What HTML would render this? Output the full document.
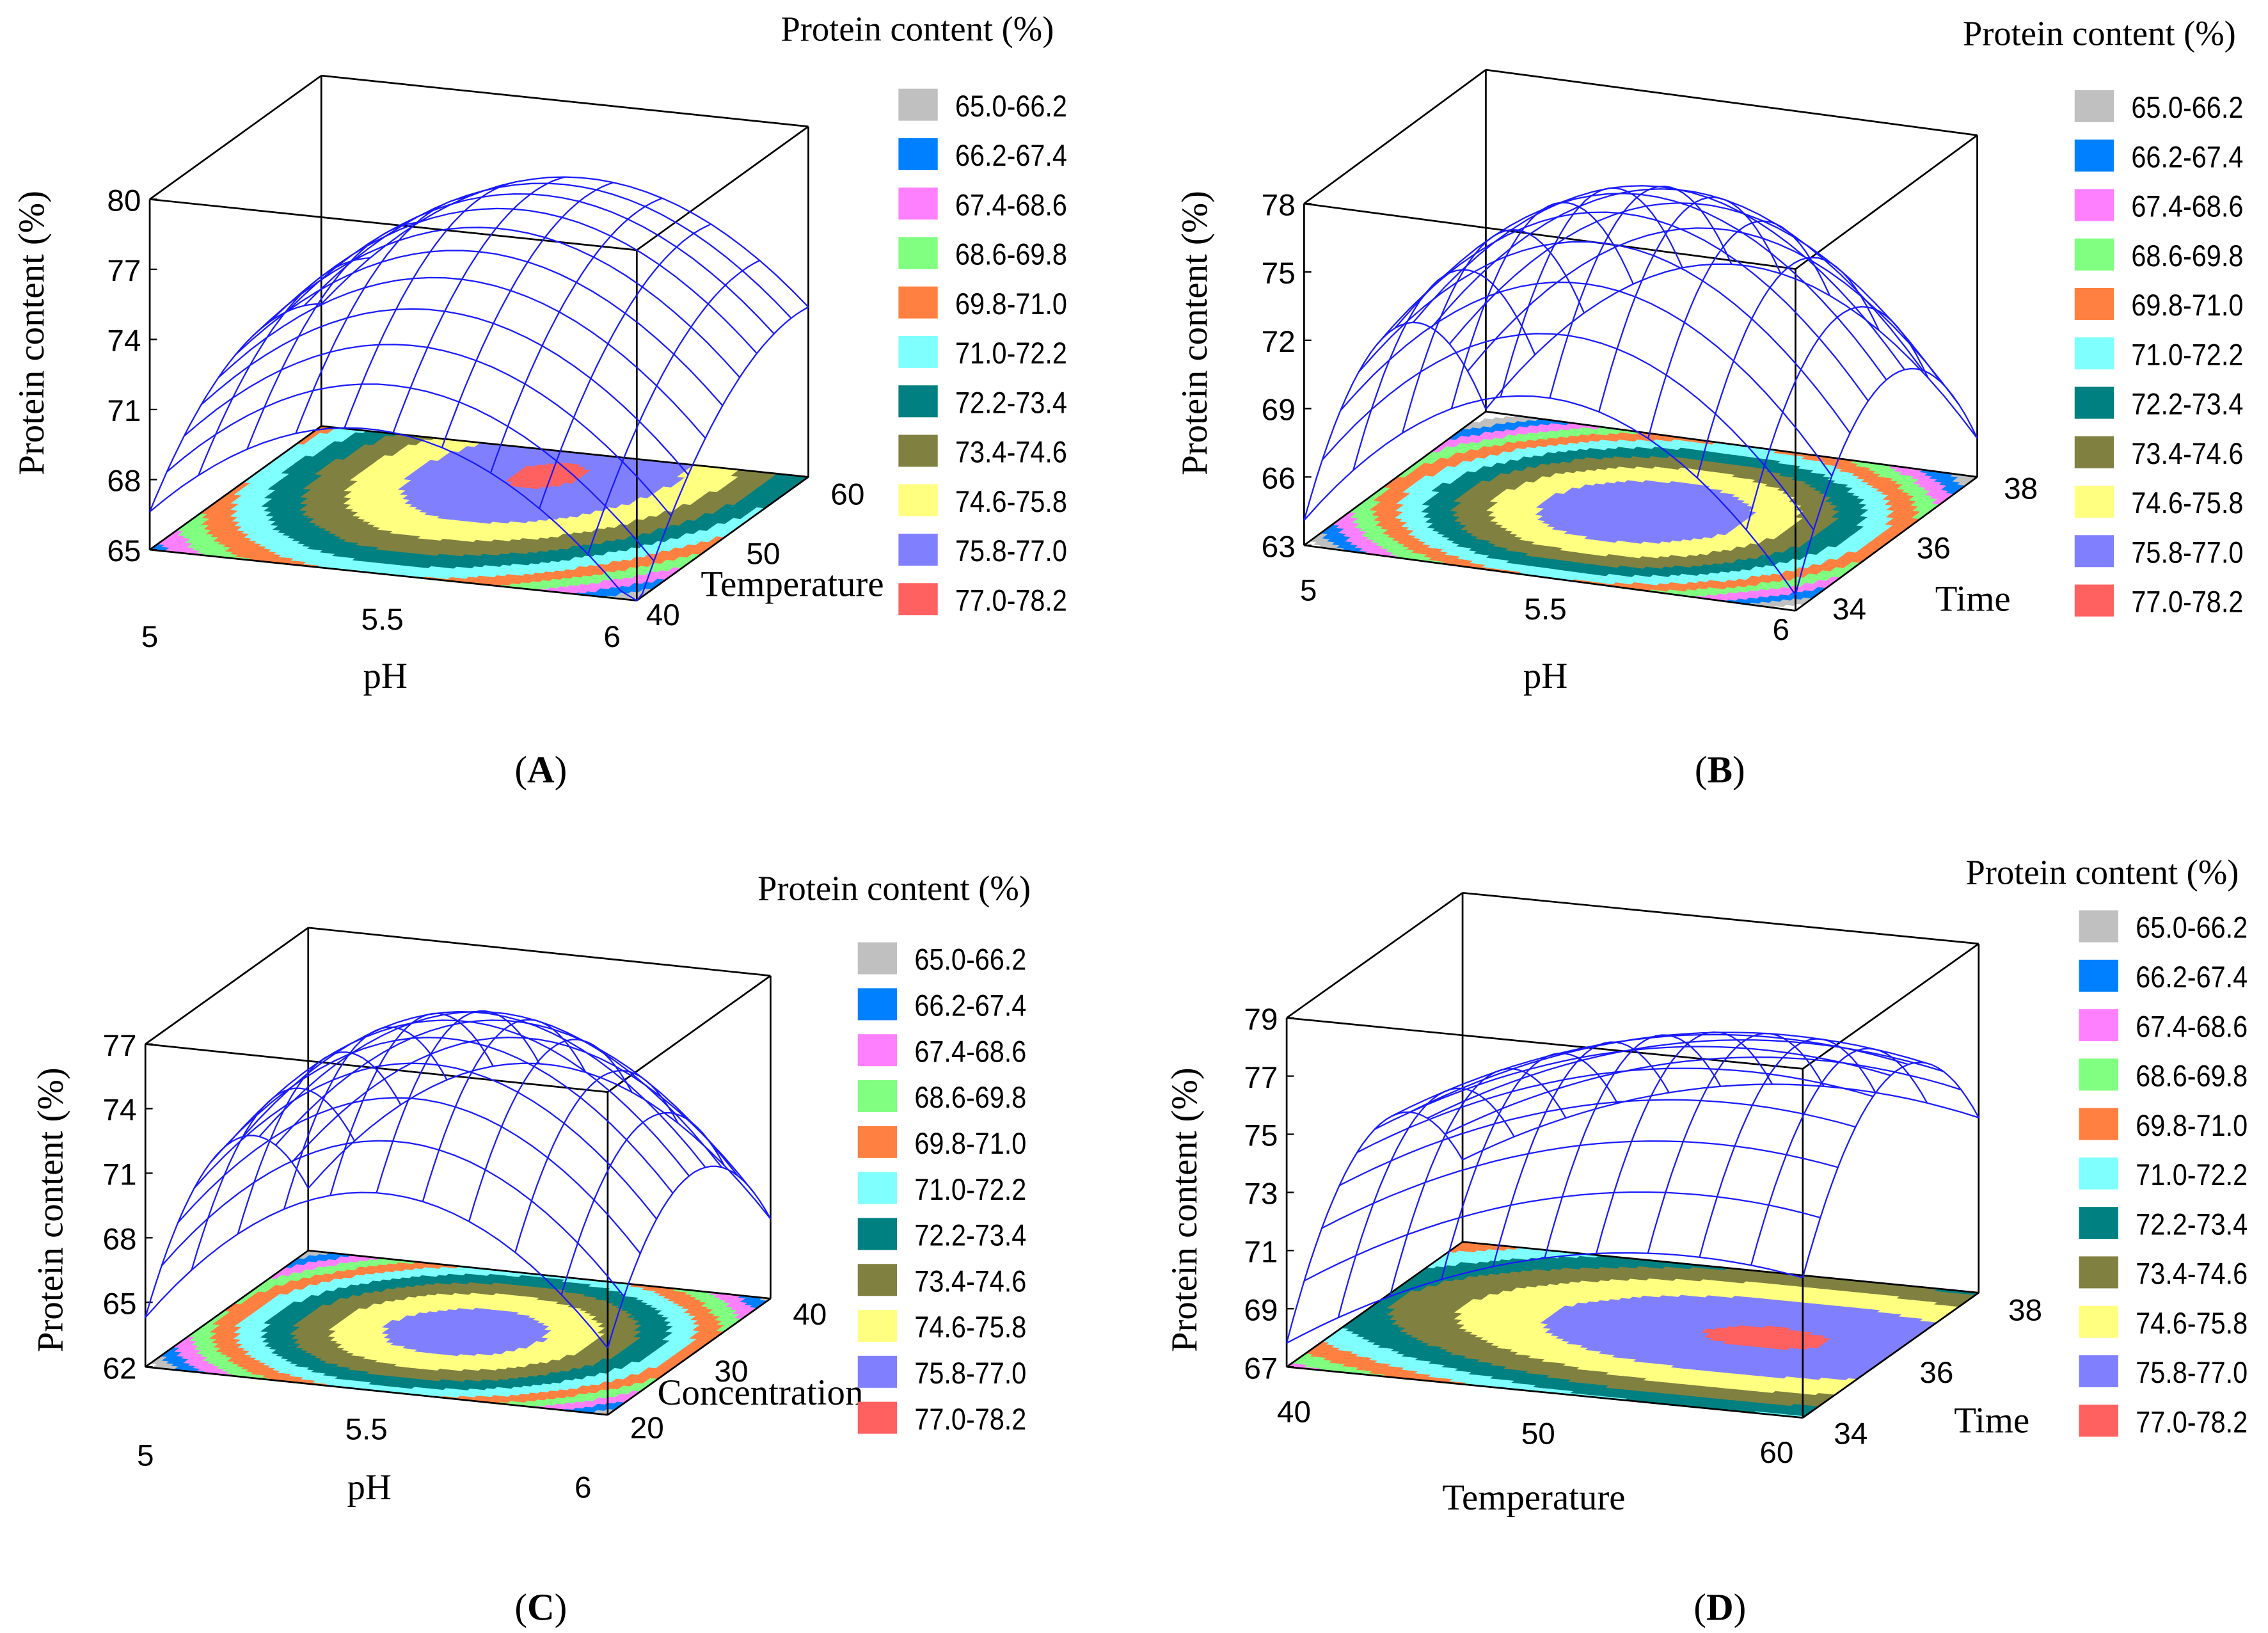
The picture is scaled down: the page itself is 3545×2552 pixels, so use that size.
<!DOCTYPE html>
<html><head><meta charset="utf-8"><title>Response surfaces</title>
<style>
html,body{margin:0;padding:0;background:#fff;}
svg{display:block;}
.tk{font-family:"Liberation Sans Narrow","Liberation Sans",sans-serif;font-size:21px;fill:#000;}
.sf{font-family:"Liberation Serif",serif;fill:#000;}
</style></head>
<body>
<svg id="fig" xmlns="http://www.w3.org/2000/svg" width="3545" height="2552" viewBox="0 0 1560 1123">
<rect x="0" y="0" width="1560" height="1123" fill="#fff"/>
</svg>
<script>
// ---- data ----
const bandLows = [65.0, 66.2, 67.4, 68.6, 69.8, 71.0, 72.2, 73.4, 74.6, 75.8, 77.0];
const bandLabels = ["65.0-66.2","66.2-67.4","67.4-68.6","68.6-69.8","69.8-71.0","71.0-72.2","72.2-73.4","73.4-74.6","74.6-75.8","75.8-77.0","77.0-78.2"];
const bandColors = ["#c0c0c0","#0080ff","#ff80ff","#80ff80","#ff8040","#80ffff","#008080","#808040","#ffff80","#8080ff","#ff6060"];
const bandWidth = 1.2;

// fitted model coefficients [b0, b1, b2, b11, b22, b12] on coded (-1..1) factors
const coefA = [76.2, 0.0, 2.825, -5.5, -2.275, 1.025];
const coefB = [76.9, 0.3, 0.0, -7.0, -6.0, 0.5];
const coefC = [76.5, 0.4, 0.3, -6.5, -5.0, 0.0];
const coefD = [76.62, 1.8, 0.8, -1.8, -4.2, -0.2];

const zTicksA = [65, 68, 71, 74, 77, 80];
const zTicksB = [63, 66, 69, 72, 75, 78];
const zTicksC = [62, 65, 68, 71, 74, 77];
const zTicksD = [67, 69, 71, 73, 75, 77, 79];

const xTicksA = ["5", "5.5", "6"];
const xTicksB = ["5", "5.5", "6"];
const xTicksC = ["5", "5.5", "6"];
const xTicksD = ["40", "50", "60"];

const yTicksA = ["40", "50", "60"];
const yTicksB = ["34", "36", "38"];
const yTicksC = ["20", "30", "40"];
const yTicksD = ["34", "36", "38"];

// ---- geometry (layout only) ----
const panels = [
 {id:"a", coef:coefA, zt:zTicksA, xt:xTicksA, yt:yTicksA, O:[103,378], ex:[335,35], ey:[118,-85], zpx:241/15,
  xLab:[[103,437],[263,425],[421,437]], yLab:[[456,422],[525,380],[583,339]],
  xTitle:"pH", xTitlePos:[265,473], yTitle:"Temperature", yTitlePos:[545,410],
  zTitlePos:[30,229], legX:618, legY:72, legStep:34, legTitle:[631,28], tag:"A", tagPos:[372,538]},
 {id:"b", coef:coefB, zt:zTicksB, xt:xTicksB, yt:yTicksB, O:[897,375], ex:[338,45], ey:[125,-92], zpx:235/15,
  xLab:[[900,405],[1063,418],[1225,432]], yLab:[[1272,418],[1330,376],[1390,335]],
  xTitle:"pH", xTitlePos:[1063,473], yTitle:"Time", yTitlePos:[1357,420],
  zTitlePos:[830,229], legX:1427, legY:73, legStep:34, legTitle:[1444,31], tag:"B", tagPos:[1183,538]},
 {id:"c", coef:coefC, zt:zTicksC, xt:xTicksC, yt:yTicksC, O:[100,940], ex:[318,33], ey:[112,-80], zpx:222/15,
  xLab:[[100,1000],[252,982],[401,1022]], yLab:[[445,981],[503,942],[557,903]],
  xTitle:"pH", xTitlePos:[254,1031], yTitle:"Concentration", yTitlePos:[523,966],
  zTitlePos:[43,832], legX:590, legY:659, legStep:31.6, legTitle:[615,619], tag:"C", tagPos:[372,1114]},
 {id:"d", coef:coefD, zt:zTicksD, xt:xTicksD, yt:yTicksD, O:[885,940], ex:[355,35], ey:[121,-86], zpx:20,
  xLab:[[890,970],[1058,985],[1222,998]], yLab:[[1273,985],[1332,943],[1393,900]],
  xTitle:"Temperature", xTitlePos:[1055,1038], yTitle:"Time", yTitlePos:[1370,985],
  zTitlePos:[823,832], legX:1430, legY:637, legStep:34, legTitle:[1446,608], tag:"D", tagPos:[1183,1114]}
];

const NS = "http://www.w3.org/2000/svg";
const svg = document.getElementById("fig");
function mk(tag, attrs, parent){
  const e = document.createElementNS(NS, tag);
  for (const k in attrs) e.setAttribute(k, attrs[k]);
  (parent||svg).appendChild(e);
  return e;
}
function model(c, u, v){ return c[0]+c[1]*u+c[2]*v+c[3]*u*u+c[4]*v*v+c[5]*u*v; }

panels.forEach(p=>{
  const zmin = p.zt[0], zmax = p.zt[p.zt.length-1];
  const proj = (s,t,z)=>[p.O[0]+p.ex[0]*s+p.ey[0]*t, p.O[1]+p.ex[1]*s+p.ey[1]*t-(z-zmin)*p.zpx];
  const g = mk("g", {});
  
  

  // floor contour
  const fg = mk("g", {}, g);
  
  
  const N = 64;
  for (let i=0;i<N;i++) for (let j=0;j<N;j++){
    const s0=i/N, s1=(i+1)/N, t0=j/N, t1=(j+1)/N;
    const z = model(p.coef, (s0+s1)-1, (t0+t1)-1);
    const k = Math.floor((z - bandLows[0])/bandWidth + 1e-9);
    if (k<0 || k>=bandColors.length) continue;
    const pts=[proj(s0,t0,zmin),proj(s1,t0,zmin),proj(s1,t1,zmin),proj(s0,t1,zmin)].map(q=>q[0].toFixed(1)+","+q[1].toFixed(1)).join(" ");
    const c = mk("polygon", {points:pts, fill:bandColors[k], stroke:bandColors[k], "stroke-width":"0.6"}, fg);
    
    
  }

  // box
  const A=(s,t,z)=>proj(s,t,z);
  const edges=[[[0,0,zmin],[1,0,zmin]],[[1,0,zmin],[1,1,zmin]],[[1,1,zmin],[0,1,zmin]],[[0,1,zmin],[0,0,zmin]],
    [[0,0,zmax],[1,0,zmax]],[[1,0,zmax],[1,1,zmax]],[[1,1,zmax],[0,1,zmax]],[[0,1,zmax],[0,0,zmax]],
    [[0,0,zmin],[0,0,zmax]],[[1,0,zmin],[1,0,zmax]],[[1,1,zmin],[1,1,zmax]],[[0,1,zmin],[0,1,zmax]]];
  edges.forEach(e=>{
    const a=A(...e[0]), b=A(...e[1]);
    const l=mk("line",{x1:a[0],y1:a[1],x2:b[0],y2:b[1],stroke:"#000","stroke-width":"1.2"},g);
    
    
  });

  // z ticks
  p.zt.forEach(z=>{
    const q=A(0,0,z);
    const l=mk("line",{x1:q[0],y1:q[1],x2:q[0]+5,y2:q[1],stroke:"#000","stroke-width":"1"},g);
    
    
    const t=mk("text",{x:q[0]-6,y:q[1]+8,"text-anchor":"end",class:"tk"},g);
    t.textContent=String(z);
    
    
  });
  // x ticks
  p.xt.forEach((lab,i)=>{
    const q=p.xLab[i];
    const t=mk("text",{x:q[0],y:q[1]+8,"text-anchor":"middle",class:"tk"},g);
    t.textContent=lab;
    
    
  });
  // depth ticks
  p.yt.forEach((lab,i)=>{
    const q=p.yLab[i];
    const t=mk("text",{x:q[0],y:q[1]+8,"text-anchor":"middle",class:"tk"},g);
    t.textContent=lab;
    
    
  });

  // wireframe
  const wg = mk("g", {fill:"none",stroke:"#1a1aff","stroke-width":"1"}, g);
  
  
  const D=10, S=30;
  const zc = z=>Math.max(zmin, Math.min(zmax, z));
  for (let k=0;k<=D;k++){
    let d1="", d2="";
    for (let m=0;m<=S;m++){
      const a=k/D, b=m/S;
      const q1=A(b,a,zc(model(p.coef,2*b-1,2*a-1)));
      const q2=A(a,b,zc(model(p.coef,2*a-1,2*b-1)));
      d1+=(m?"L":"M")+q1[0].toFixed(1)+" "+q1[1].toFixed(1);
      d2+=(m?"L":"M")+q2[0].toFixed(1)+" "+q2[1].toFixed(1);
    }
    const l1=mk("path",{d:d1},wg);
    
    
    const l2=mk("path",{d:d2},wg);
    
    
  }

  // axis titles
  const zt=mk("text",{x:p.zTitlePos[0],y:p.zTitlePos[1],transform:`rotate(-90 ${p.zTitlePos[0]} ${p.zTitlePos[1]})`,"text-anchor":"middle",class:"sf","font-size":"25"},g);
  zt.textContent="Protein content (%)";
  
  
  const xt=mk("text",{x:p.xTitlePos[0],y:p.xTitlePos[1],"text-anchor":"middle",class:"sf","font-size":"25"},g);
  xt.textContent=p.xTitle;
  
  
  const yt=mk("text",{x:p.yTitlePos[0],y:p.yTitlePos[1],"text-anchor":"middle",class:"sf","font-size":"25"},g);
  yt.textContent=p.yTitle;
  
  

  // legend
  const lg=mk("g",{},g);
  
  
  const lt=mk("text",{x:p.legTitle[0],y:p.legTitle[1],"text-anchor":"middle",class:"sf","font-size":"24"},lg);
  lt.textContent="Protein content (%)";
  
  
  bandLabels.forEach((lab,i)=>{
    const y=p.legY+i*p.legStep;
    const r=mk("rect",{x:p.legX,y:y-11,width:27,height:22,fill:bandColors[i]},lg);
    
    
    const t=mk("text",{x:p.legX+39,y:y+8,class:"tk","font-size":"21",textLength:"77",lengthAdjust:"spacingAndGlyphs"},lg);
    t.textContent=lab;
    
    
  });

  // panel tag
  const tg=mk("text",{x:p.tagPos[0],y:p.tagPos[1],"text-anchor":"middle",class:"sf","font-size":"26"},g);
  
  
  tg.appendChild(document.createTextNode("("));
  const b=mk("tspan",{"font-weight":"bold"},tg); b.textContent=p.tag;
  tg.appendChild(document.createTextNode(")"));
});
</script>
</body></html>
